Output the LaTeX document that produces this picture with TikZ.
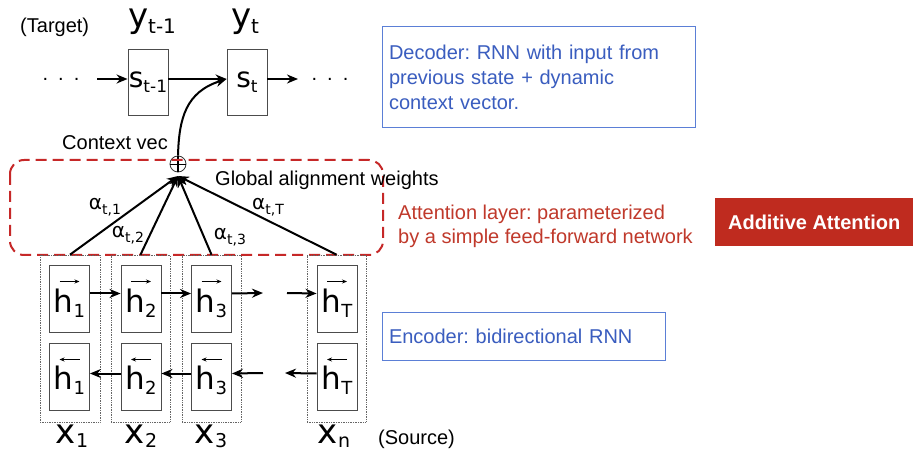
\documentclass[tikz,border=0pt]{standalone}
\usepackage{fontspec}
\setmainfont{Liberation Sans}
\newfontfamily\djf{DejaVu Sans}
\usetikzlibrary{arrows.meta}
\frenchspacing
\definecolor{blueT}{HTML}{3A5DBF}
\definecolor{blueB}{HTML}{5B7FD6}
\definecolor{redT}{HTML}{C0392B}
\definecolor{redD}{HTML}{C62828}
\definecolor{redF}{HTML}{BF2B1F}
\newcommand\bigsym[4]{{\djf\fontsize{#3}{#3}\selectfont #1\fontsize{#4}{#4}\selectfont\raisebox{-0.3em}{#2}}}
\newcommand\lowsym[4]{{\djf\fontsize{#3}{#3}\selectfont #1\fontsize{#4}{#4}\selectfont\raisebox{-0.2em}{#2}}}
\newcommand\alab[1]{{\djf\fontsize{20}{20}\selectfont α\fontsize{14}{14}\selectfont\raisebox{-0.35em}{t,#1}}}
\begin{document}
\begin{tikzpicture}[x=1pt,y=-1pt,
  arr/.style={line width=2pt,-{Stealth[length=11pt,width=9pt]}},
  harr/.style={line width=0.9pt,-{Stealth[length=5pt,width=4pt]}},
  sbox/.style={draw=black!70,line width=0.9pt,minimum width=40pt,minimum height=66pt,inner sep=0pt},
  hbox/.style={draw=black!70,line width=0.9pt,minimum width=40pt,minimum height=67pt,inner sep=0pt},
  colbox/.style={draw=black!60,densely dotted,line width=0.7pt,minimum height=167pt,inner sep=0pt},
  txt/.style={font=\fontsize{20}{24}\selectfont,inner sep=0pt},
  bluebox/.style={draw=blueB,line width=1pt,text=blueT,font=\fontsize{20}{25}\selectfont,align=left,inner sep=0pt}]
\useasboundingbox (0,0) rectangle (913,454);
\fill[white] (0,0) rectangle (913,454);

% decoder
\node[txt,anchor=west] (target) at (20,27) {(Target)};
\node[inner sep=0pt] (yt1) at (152,22) {\bigsym{y}{t-1}{34}{20}};
\node[inner sep=0pt] (yt) at (245,22) {\bigsym{y}{t}{34}{20}};
\node[sbox] (s1) at (148,82) {\bigsym{s}{t-1}{28}{17}};
\node[sbox] (s2) at (247,82) {\bigsym{s}{t}{28}{17}};
\node[txt] (dl) at (61,79) {.\hspace{10pt}.\hspace{10pt}.};
\node[txt] (dr) at (330,79) {.\hspace{10pt}.\hspace{10pt}.};
\coordinate (al) at (97,79);
\coordinate (ar) at (298,79);
\draw[arr] (al) -- (s1.west|-al);
\draw[arr] (s1.east|-al) -- (s2.west|-al);
\draw[arr] (s2.east|-al) -- (ar);

% attention
\node[txt,anchor=west] (ctx) at (62,143) {Context vec};
\node[draw=black!80,circle,line width=0.8pt,minimum size=16pt,inner sep=0pt] (plus) at (178,164) {};
\draw[line width=0.8pt] (plus.west) -- (plus.east);
\draw[line width=1.8pt] (plus.south) -- (plus.north);
\draw[arr] (plus.north) .. controls (179,118) and (186,92) .. (s2.west|-al);
\coordinate (conv) at (178,176);
\draw[redD,line width=2pt,dash pattern=on 11pt off 6pt,rounded corners=14pt] (10,160) rectangle (383,255);
\node[txt,anchor=west] (gaw) at (215,180) {Global alignment weights};

% encoder columns
\node[colbox,minimum width=60pt] (c1) at (70,338.5) {};
\node[colbox,minimum width=59pt] (c2) at (140.5,338.5) {};
\node[colbox,minimum width=59pt] (c3) at (211.5,338.5) {};
\node[colbox,minimum width=59pt] (c4) at (336.5,338.5) {};

\foreach \i/\x/\s in {1/69.5/1,2/141/2,3/211.5/3,4/337/T}{
  \node[hbox] (f\i) at (\x,298.5) {\raisebox{-14pt}[0pt][0pt]{\bigsym{h}{\s}{31}{18}}};
  \node[hbox] (b\i) at (\x,376.5) {\raisebox{-13pt}[0pt][0pt]{\bigsym{h}{\s}{31}{18}}};
  \draw[harr] ([xshift=-10pt,yshift=17pt]f\i.center) -- ++(20,0);
  \draw[harr] ([xshift=10pt,yshift=17pt]b\i.center) -- ++(-20,0);
}

\draw[arr] ([yshift=5pt]f1.east) -- ([yshift=5pt]f2.west);
\draw[arr] ([yshift=5pt]f2.east) -- ([yshift=5pt]f3.west);
\coordinate (fm1) at (263,293);
\coordinate (fm2) at (287,293);
\draw[arr] ([yshift=5pt]f3.east) -- (fm1);
\draw[arr] (fm2) -- ([yshift=5pt]f4.west);
\coordinate (bm1) at (263,373);
\coordinate (bm2) at (285,373);
\draw[arr] ([yshift=3pt]b2.west) -- ([yshift=3pt]b1.east);
\draw[arr] ([yshift=3pt]b3.west) -- ([yshift=3pt]b2.east);
\draw[arr] (bm1) -- ([yshift=3pt]b3.east);
\draw[arr] ([yshift=3pt]b4.west) -- (bm2);

% alignment arrows
\foreach \i in {1,2,3,4}{ \draw[arr] (c\i.north) -- (conv); }
\node[inner sep=0pt] (a1) at (105,207) {\alab{1}};
\node[inner sep=0pt] (a2) at (128,235) {\alab{2}};
\node[inner sep=0pt] (a3) at (230,237) {\alab{3}};
\node[inner sep=0pt] (aT) at (268,207) {\alab{T}};

% x labels
\node[inner sep=0pt] (x1) at (72,436) {\lowsym{x}{1}{34}{19}};
\node[inner sep=0pt] (x2) at (141,436) {\lowsym{x}{2}{34}{19}};
\node[inner sep=0pt] (x3) at (211,436) {\lowsym{x}{3}{34}{19}};
\node[inner sep=0pt] (xn) at (334,436) {\lowsym{x}{n}{34}{19}};
\node[txt,anchor=west] (src) at (378,439) {(Source)};

% side texts
\node[bluebox,minimum width=313pt,minimum height=101pt,text width=300pt,anchor=north west] (dec) at (382,26) {Decoder: RNN with input from\\previous state + dynamic\\context vector.};
\node[txt,text=redT,anchor=west,align=left,font=\fontsize{20}{24}\selectfont] (att) at (398,226) {Attention layer: parameterized\\by a simple feed-forward network};
\node[fill=redF,text=white,font=\bfseries\fontsize{20}{22}\selectfont,minimum width=198pt,minimum height=48pt,inner sep=0pt,anchor=north west] (add) at (715,198) {Additive Attention};
\node[bluebox,minimum width=283pt,minimum height=48pt,text width=270pt,anchor=north west] (enc) at (382,312) {Encoder: bidirectional RNN};
\end{tikzpicture}
\end{document}
